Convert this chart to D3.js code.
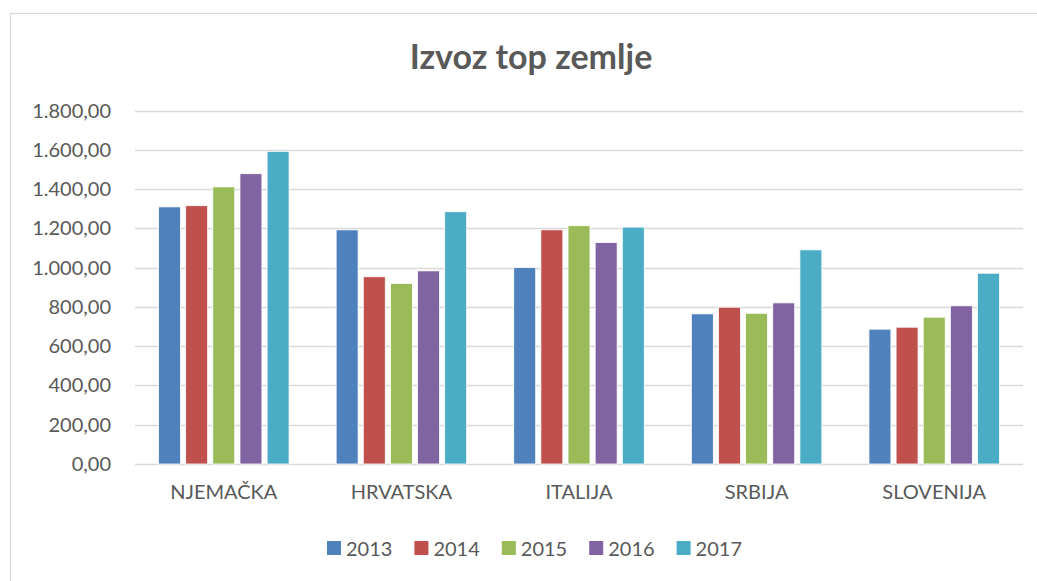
<!DOCTYPE html>
<html>
<head>
<meta charset="utf-8">
<script src="https://cdn.jsdelivr.net/npm/d3@7"></script>
<style>
  body { margin: 0; background: #fff; }
  svg { display: block; font-family: Lato, "Open Sans", sans-serif; }
</style>
</head>
<body>
<div id="chart"></div>
<script>
// data
const categories = ["NJEMAČKA", "HRVATSKA", "ITALIJA", "SRBIJA", "SLOVENIJA"];
const years = ["2013", "2014", "2015", "2016", "2017"];
const values2013 = [1310, 1193, 1001, 765, 687];
const values2014 = [1316, 954, 1193, 799, 697];
const values2015 = [1412, 920, 1214, 768, 748];
const values2016 = [1479, 984, 1128, 821, 806];
const values2017 = [1593, 1285, 1207, 1091, 972];
const yTicks = [0, 200, 400, 600, 800, 1000, 1200, 1400, 1600, 1800];
const colors = ["#4f81bd", "#c0504d", "#9bbb59", "#8064a2", "#4bacc6"];

const series = [values2013, values2014, values2015, values2016, values2017];

const W = 1037, H = 581;
const plot = { left: 135, right: 1023, top: 110.7, bottom: 464 };
const labelSize = 20;

const svg = d3.select("#chart").append("svg")
    .attr("width", W).attr("height", H);

// chart frame (runs off the right and bottom of the picture)
svg.append("rect")
    .attr("x", 10.5).attr("y", 13.5)
    .attr("width", 1040).attr("height", 580)
    .attr("fill", "#fff").attr("stroke", "#d9d9d9").attr("stroke-width", 1.3);

svg.append("text")
    .attr("x", 531).attr("y", 69)
    .attr("text-anchor", "middle")
    .attr("font-size", 34).attr("font-weight", "bold")
    .attr("fill", "#595959")
    .text("Izvoz top zemlje");

const y = d3.scaleLinear().domain([0, 1800]).range([plot.bottom, plot.top]);
const x0 = d3.scaleBand().domain(categories).range([plot.left, plot.right])
    .paddingInner(0.265).paddingOuter(0.1325);
const x1 = d3.scaleBand().domain(years).range([0, x0.bandwidth()])
    .paddingInner(0.19).paddingOuter(0);

const fmt = v => {
    const s = d3.format(",.2f")(v);
    return s.replace(/,/g, "#").replace(".", ",").replace(/#/g, ".");
};

// gridlines
svg.append("g").selectAll("line").data(yTicks).join("line")
    .attr("x1", plot.left).attr("x2", plot.right)
    .attr("y1", d => Math.round(y(d)) + 0.5).attr("y2", d => Math.round(y(d)) + 0.5)
    .attr("stroke", "#d9d9d9").attr("stroke-width", 1.5);

// y axis labels
const yAxis = svg.append("g")
    .attr("transform", `translate(${plot.left},0)`)
    .call(d3.axisLeft(y).tickValues(yTicks).tickFormat(fmt).tickSize(0).tickPadding(24));
yAxis.select(".domain").remove();
yAxis.selectAll("text")
    .attr("font-size", labelSize).attr("fill", "#595959")
    .attr("font-family", "Lato, 'Open Sans', sans-serif");

// bars
const groups = svg.append("g").selectAll("g").data(categories).join("g")
    .attr("transform", d => `translate(${x0(d)},0)`);
groups.selectAll("rect")
    .data((c, i) => years.map((yr, j) => ({ yr, v: series[j][i], j })))
    .join("rect")
    .attr("x", d => x1(d.yr))
    .attr("width", x1.bandwidth())
    .attr("y", d => y(d.v))
    .attr("height", d => y(0) - y(d.v))
    .attr("fill", d => colors[d.j])
    .attr("stroke", "#fff").attr("stroke-width", 0.8);

// x axis labels
const xAxis = svg.append("g")
    .attr("transform", `translate(0,${plot.bottom})`)
    .call(d3.axisBottom(x0).tickSize(0).tickPadding(21));
xAxis.select(".domain").remove();
xAxis.selectAll("text")
    .attr("font-size", labelSize).attr("fill", "#595959")
    .attr("font-family", "Lato, 'Open Sans', sans-serif");

// legend
const legend = svg.append("g").attr("transform", "translate(327,541)");
const item = legend.selectAll("g").data(years).join("g")
    .attr("transform", (d, i) => `translate(${i * 87.4},0)`);
item.append("rect")
    .attr("width", 14).attr("height", 14)
    .attr("fill", (d, i) => colors[i]);
item.append("text")
    .attr("x", 19).attr("y", 14.5)
    .attr("font-size", labelSize).attr("fill", "#595959")
    .text(d => d);
</script>
</body>
</html>
